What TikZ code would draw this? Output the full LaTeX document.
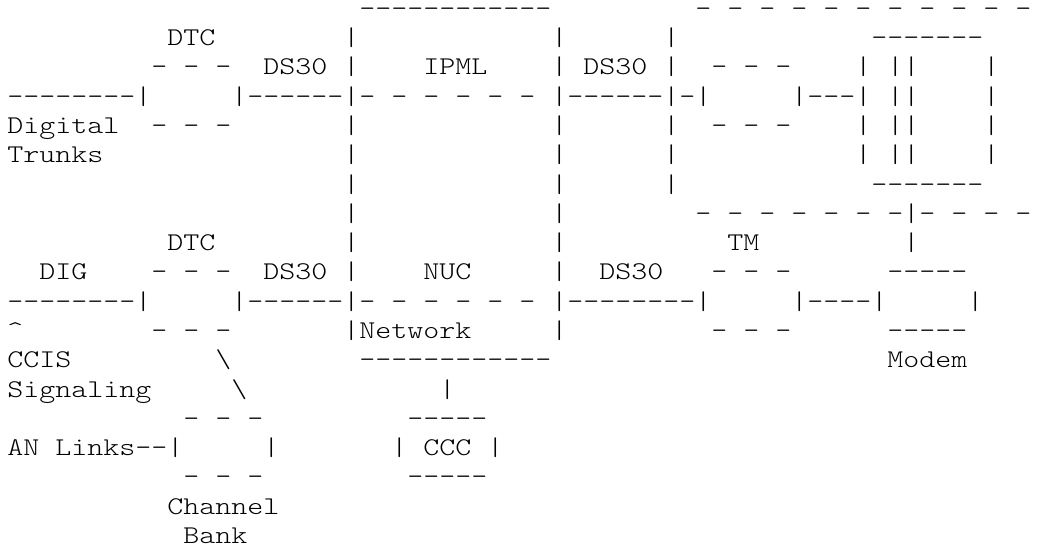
\documentclass[tikz,border=0pt]{standalone}
\usepackage{fontspec}
\setmonofont{lmmonolt10-regular.otf}
\newcommand\g[1]{\hspace*{#1\fontcharwd\font`M}}
\newcommand\asciiline[1]{\scalebox{1.1952}[1]{\ttfamily\fontsize{25.5pt}{29.28pt}\selectfont #1}}
\begin{document}
\begin{tikzpicture}[x=1pt,y=1pt,
  asciirow/.style={anchor=base west, inner sep=0pt, outer sep=0pt}]
\fill[white] (0,0) rectangle (1045,-548);
\path[use as bounding box] (0,0) rectangle (1045,-548);
\node[asciirow] (r0)  at (7.3,-16.4)   {\smash{\asciiline{\g{22}------------\g{9}- - - - - - - - - - -}}};
\node[asciirow] (r1)  at (7.3,-45.68)  {\asciiline{\g{10}DTC\g{8}|\g{12}|\g{6}|\g{12}-------}};
\node[asciirow] (r2)  at (7.3,-74.96)  {\asciiline{\g{9}- - -\g{2}DS30 |\g{4}IPML\g{4}| DS30 |\g{2}- - -\g{4}| ||\g{4}|}};
\node[asciirow] (r3)  at (7.3,-104.24) {\asciiline{--------|\g{5}|------|- - - - - - |------|-|\g{5}|---| ||\g{4}|}};
\node[asciirow] (r4)  at (7.3,-133.52) {\asciiline{Digital\g{2}- - -\g{7}|\g{12}|\g{6}|\g{2}- - -\g{4}| ||\g{4}|}};
\node[asciirow] (r5)  at (7.3,-162.8)  {\asciiline{Trunks\g{15}|\g{12}|\g{6}|\g{11}| ||\g{4}|}};
\node[asciirow] (r6)  at (7.3,-192.08) {\asciiline{\g{21}|\g{12}|\g{6}|\g{12}-------}};
\node[asciirow] (r7)  at (7.3,-221.36) {\asciiline{\g{21}|\g{12}|\g{8}- - - - - - -|- - - -}};
\node[asciirow] (r8)  at (7.3,-250.64) {\asciiline{\g{10}DTC\g{8}|\g{12}|\g{10}TM\g{9}|}};
\node[asciirow] (r9)  at (7.3,-279.92) {\asciiline{\g{2}DIG\g{4}- - -\g{2}DS30 |\g{4}NUC\g{5}|\g{2}DS30\g{3}- - -\g{6}-----}};
\node[asciirow] (r10) at (7.3,-309.2)  {\asciiline{--------|\g{5}|------|- - - - - - |--------|\g{5}|----|\g{5}|}};
\node[asciirow] (r11) at (7.3,-338.48) {\asciiline{\textasciicircum\g{8}- - -\g{7}|Network\g{5}|\g{9}- - -\g{6}-----}};
\node[asciirow] (r12) at (7.3,-367.76) {\asciiline{CCIS\g{9}\textbackslash\g{8}------------\g{21}Modem}};
\node[asciirow] (r13) at (7.3,-397.04) {\asciiline{Signaling\g{5}\textbackslash\g{12}|}};
\node[asciirow] (r14) at (7.3,-426.32) {\asciiline{\g{11}- - -\g{9}-----}};
\node[asciirow] (r15) at (7.3,-455.6)  {\asciiline{AN Links--|\g{5}|\g{7}| CCC |}};
\node[asciirow] (r16) at (7.3,-484.88) {\asciiline{\g{11}- - -\g{9}-----}};
\node[asciirow] (r17) at (7.3,-514.16) {\asciiline{\g{10}Channel}};
\node[asciirow] (r18) at (7.3,-543.44) {\asciiline{\g{11}Bank}};
\end{tikzpicture}
\end{document}
